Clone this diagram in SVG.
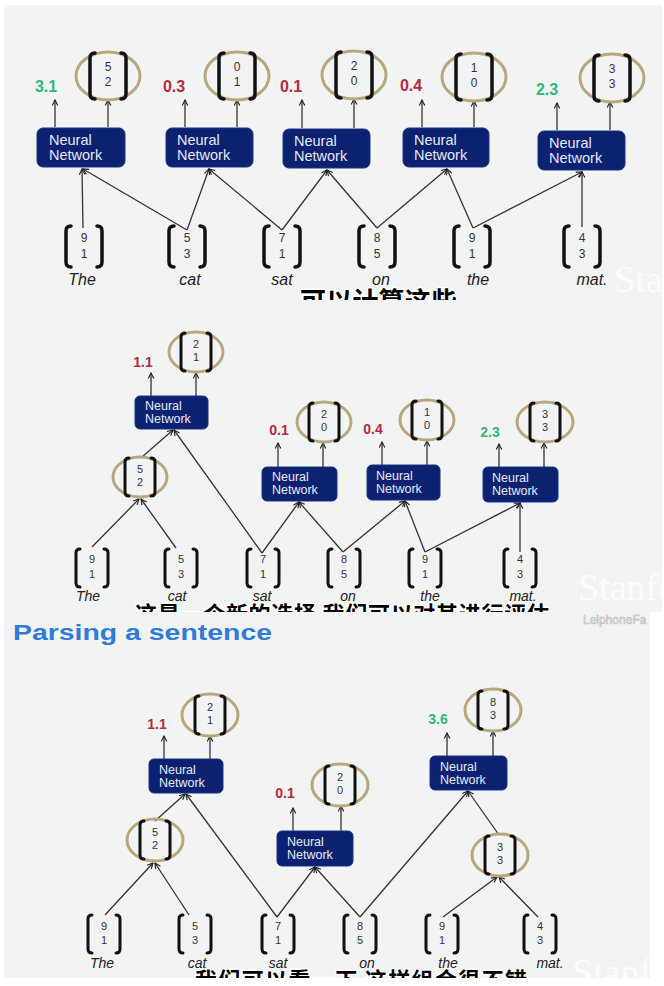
<svg xmlns="http://www.w3.org/2000/svg" width="664" height="986" viewBox="0 0 664 986">
<defs>
<style>
.bg{fill:#f2f3f3}
.nn{fill:#0c2270;stroke:#1b3285;stroke-width:1}
.nt{font-family:"Liberation Sans",Arial,sans-serif;fill:#e4e9f5}
.t1{font-size:14.5px}
.t2{font-size:12.5px}
.br{fill:none;stroke:#111;stroke-width:3.5;stroke-linecap:round;stroke-linejoin:round}
.br2{fill:none;stroke:#111;stroke-width:3;stroke-linecap:round;stroke-linejoin:round}
.el{fill:none;stroke:#b7a77b;stroke-width:3}
.num{font-family:"Liberation Sans",Arial,sans-serif;fill:#333;text-anchor:middle}
.n1{font-size:12px}
.n2{font-size:11px}
.sc{font-family:"Liberation Sans",Arial,sans-serif;text-anchor:middle;font-weight:bold}
.s1{font-size:16px}
.s2{font-size:14px}
.red{fill:#b52a40}
.grn{fill:#2fba76}
.wd{font-family:"Liberation Sans",Arial,sans-serif;font-style:italic;fill:#222;text-anchor:middle}
.w1{font-size:16px}
.w2{font-size:14px}
.cn line{stroke:#333;stroke-width:1.3;marker-end:url(#ah)}
.sub{font-family:"Noto Sans CJK SC",sans-serif;font-weight:bold;fill:#000;stroke:#fff;stroke-width:3;paint-order:stroke;stroke-linejoin:round}
.wm{font-family:"Liberation Serif",serif;fill:#ffffff;opacity:0.8}
</style>
<marker id="ah" viewBox="0 0 10 10" refX="9" refY="5" markerWidth="7" markerHeight="7" markerUnits="userSpaceOnUse" orient="auto">
<path d="M1,1 L9,5 L1,9" fill="none" stroke="#222" stroke-width="1.6"/>
</marker>
<clipPath id="c1"><rect x="0" y="0" width="664" height="300"/></clipPath>
<clipPath id="c2"><rect x="0" y="300" width="664" height="312"/></clipPath>
<clipPath id="c3"><rect x="0" y="612" width="664" height="366"/></clipPath>
</defs>
<rect width="664" height="986" fill="#ffffff"/>
<rect class="bg" x="4" y="5" width="658" height="295"/>
<rect class="bg" x="4" y="300" width="658" height="312"/>
<rect class="bg" x="4" y="612" width="646" height="366"/>

<!-- watermarks -->
<text class="wm" x="614" y="292" font-size="38" clip-path="url(#c1)">Sta</text>
<text class="wm" x="578" y="600" font-size="38" clip-path="url(#c2)">Stanfo</text>
<text x="583" y="624" font-family="Liberation Sans,Arial,sans-serif" font-size="12" fill="#e9eaea" stroke="#b9bcbf" stroke-width="0.6">LeiphoneFa</text>
<text class="wm" x="572" y="985" font-size="38" clip-path="url(#c3)">Stanf</text>

<!-- ================= PANEL 1 ================= -->
<g id="p1-connectors" class="cn">
<line x1="83" y1="228" x2="82" y2="169"/>
<line x1="187" y1="230" x2="83" y2="169"/>
<line x1="187" y1="230" x2="209" y2="169"/>
<line x1="282" y1="230" x2="209" y2="169"/>
<line x1="282" y1="230" x2="327" y2="170"/>
<line x1="377" y1="228" x2="327" y2="170"/>
<line x1="377" y1="228" x2="447" y2="169"/>
<line x1="473" y1="228" x2="447" y2="169"/>
<line x1="473" y1="228" x2="582" y2="172"/>
<line x1="582" y1="227" x2="582" y2="172"/>
<line x1="55" y1="127" x2="55" y2="100"/>
<line x1="108" y1="127" x2="108" y2="100"/>
<line x1="185" y1="127" x2="185" y2="100"/>
<line x1="237" y1="127" x2="237" y2="100"/>
<line x1="302" y1="128" x2="302" y2="100"/>
<line x1="354" y1="128" x2="354" y2="99"/>
<line x1="422" y1="127" x2="422" y2="100"/>
<line x1="474" y1="127" x2="474" y2="101"/>
<line x1="557" y1="130" x2="557" y2="103"/>
<line x1="610" y1="130" x2="610" y2="102"/>
</g>

<g id="p1-nn1"><rect class="nn" x="37" y="128" width="88" height="39" rx="6"/><text class="nt t1" x="49" y="145">Neural</text><text class="nt t1" x="49" y="160">Network</text></g>
<g id="p1-nn2"><rect class="nn" x="166" y="128" width="87" height="39" rx="6"/><text class="nt t1" x="177" y="145">Neural</text><text class="nt t1" x="177" y="160">Network</text></g>
<g id="p1-nn3"><rect class="nn" x="283" y="129" width="87" height="39" rx="6"/><text class="nt t1" x="294" y="146">Neural</text><text class="nt t1" x="294" y="161">Network</text></g>
<g id="p1-nn4"><rect class="nn" x="403" y="128" width="86" height="39" rx="6"/><text class="nt t1" x="414" y="145">Neural</text><text class="nt t1" x="414" y="160">Network</text></g>
<g id="p1-nn5"><rect class="nn" x="538" y="131" width="87" height="39" rx="6"/><text class="nt t1" x="549" y="148">Neural</text><text class="nt t1" x="549" y="163">Network</text></g>

<g id="p1-scores">
<text class="sc s1 grn" x="46" y="92">3.1</text>
<text class="sc s1 red" x="174" y="92">0.3</text>
<text class="sc s1 red" x="291" y="92">0.1</text>
<text class="sc s1 red" x="411" y="91">0.4</text>
<text class="sc s1 grn" x="547" y="95">2.3</text>
</g>

<g id="p1-out1"><ellipse class="el" cx="108" cy="76" rx="32" ry="24"/><path class="br" d="M95,53 Q90,53 90,58 L90,94 Q90,99 95,99 M121,53 Q126,53 126,58 L126,94 Q126,99 121,99"/><text class="num n1" x="108" y="71">5</text><text class="num n1" x="108" y="86">2</text></g>
<g id="p1-out2"><ellipse class="el" cx="237" cy="76" rx="32" ry="24"/><path class="br" d="M224,53 Q219,53 219,58 L219,94 Q219,99 224,99 M250,53 Q255,53 255,58 L255,94 Q255,99 250,99"/><text class="num n1" x="237" y="71">0</text><text class="num n1" x="237" y="86">1</text></g>
<g id="p1-out3"><ellipse class="el" cx="354" cy="75" rx="32" ry="24"/><path class="br" d="M341,52 Q336,52 336,57 L336,93 Q336,98 341,98 M367,52 Q372,52 372,57 L372,93 Q372,98 367,98"/><text class="num n1" x="354" y="70">2</text><text class="num n1" x="354" y="85">0</text></g>
<g id="p1-out4"><ellipse class="el" cx="474" cy="77" rx="32" ry="24"/><path class="br" d="M461,54 Q456,54 456,59 L456,95 Q456,100 461,100 M487,54 Q492,54 492,59 L492,95 Q492,100 487,100"/><text class="num n1" x="474" y="72">1</text><text class="num n1" x="474" y="87">0</text></g>
<g id="p1-out5"><ellipse class="el" cx="612" cy="78" rx="32" ry="24"/><path class="br" d="M599,55 Q594,55 594,60 L594,96 Q594,101 599,101 M625,55 Q630,55 630,60 L630,96 Q630,101 625,101"/><text class="num n1" x="612" y="73">3</text><text class="num n1" x="612" y="88">3</text></g>

<g id="p1-the"><path class="br" d="M71,226 Q66,226 66,231 L66,262 Q66,267 71,267 M97,226 Q102,226 102,231 L102,262 Q102,267 97,267"/><text class="num n1" x="84" y="242">9</text><text class="num n1" x="84" y="258">1</text><text class="wd w1" x="82" y="285">The</text></g>
<g id="p1-cat"><path class="br" d="M174,226 Q169,226 169,231 L169,262 Q169,267 174,267 M200,226 Q205,226 205,231 L205,262 Q205,267 200,267"/><text class="num n1" x="187" y="242">5</text><text class="num n1" x="187" y="258">3</text><text class="wd w1" x="190" y="285">cat</text></g>
<g id="p1-sat"><path class="br" d="M269,226 Q264,226 264,231 L264,262 Q264,267 269,267 M295,226 Q300,226 300,231 L300,262 Q300,267 295,267"/><text class="num n1" x="282" y="242">7</text><text class="num n1" x="282" y="258">1</text><text class="wd w1" x="282" y="285">sat</text></g>
<g id="p1-on"><path class="br" d="M364,226 Q359,226 359,231 L359,262 Q359,267 364,267 M390,226 Q395,226 395,231 L395,262 Q395,267 390,267"/><text class="num n1" x="377" y="242">8</text><text class="num n1" x="377" y="258">5</text><text class="wd w1" x="381" y="285">on</text></g>
<g id="p1-the2"><path class="br" d="M459,226 Q454,226 454,231 L454,262 Q454,267 459,267 M485,226 Q490,226 490,231 L490,262 Q490,267 485,267"/><text class="num n1" x="472" y="242">9</text><text class="num n1" x="472" y="258">1</text><text class="wd w1" x="478" y="285">the</text></g>
<g id="p1-mat"><path class="br" d="M569,226 Q564,226 564,231 L564,262 Q564,267 569,267 M595,226 Q600,226 600,231 L600,262 Q600,267 595,267"/><text class="num n1" x="582" y="242">4</text><text class="num n1" x="582" y="258">3</text><text class="wd w1" x="592" y="285">mat.</text></g>

<text class="sub" x="300" y="311" font-size="26" clip-path="url(#c1)" textLength="157">可以计算这些</text>

<!-- ================= PANEL 2 ================= -->
<g id="p2-connectors" class="cn">
<line x1="92" y1="547" x2="139" y2="499"/>
<line x1="176" y1="548" x2="141" y2="499"/>
<line x1="142" y1="457" x2="173" y2="430"/>
<line x1="262" y1="553" x2="174" y2="430"/>
<line x1="262" y1="553" x2="299" y2="502"/>
<line x1="343" y1="552" x2="299" y2="502"/>
<line x1="343" y1="552" x2="405" y2="501"/>
<line x1="425" y1="552" x2="405" y2="501"/>
<line x1="425" y1="552" x2="520" y2="503"/>
<line x1="520" y1="552" x2="520" y2="503"/>
<line x1="151" y1="396" x2="151" y2="373"/>
<line x1="196" y1="396" x2="196" y2="373"/>
<line x1="278" y1="467" x2="278" y2="443"/>
<line x1="323" y1="467" x2="323" y2="443"/>
<line x1="382" y1="465" x2="382" y2="442"/>
<line x1="427" y1="465" x2="427" y2="441"/>
<line x1="499" y1="467" x2="499" y2="444"/>
<line x1="544" y1="467" x2="544" y2="443"/>
</g>

<g id="p2-nn1"><rect class="nn" x="135" y="396" width="73" height="33" rx="5"/><text class="nt t2" x="145" y="410">Neural</text><text class="nt t2" x="145" y="423">Network</text></g>
<g id="p2-nn2"><rect class="nn" x="262" y="467" width="75" height="34" rx="5"/><text class="nt t2" x="272" y="481">Neural</text><text class="nt t2" x="272" y="494">Network</text></g>
<g id="p2-nn3"><rect class="nn" x="367" y="465" width="73" height="35" rx="5"/><text class="nt t2" x="376" y="480">Neural</text><text class="nt t2" x="376" y="493">Network</text></g>
<g id="p2-nn4"><rect class="nn" x="483" y="467" width="75" height="35" rx="5"/><text class="nt t2" x="492" y="482">Neural</text><text class="nt t2" x="492" y="495">Network</text></g>

<g id="p2-scores">
<text class="sc s2 red" x="143" y="367">1.1</text>
<text class="sc s2 red" x="279" y="435">0.1</text>
<text class="sc s2 red" x="373" y="434">0.4</text>
<text class="sc s2 grn" x="490" y="437">2.3</text>
</g>

<g id="p2-out1"><ellipse class="el" cx="196" cy="352" rx="27" ry="20"/><path class="br2" d="M185,333 Q181,333 181,337 L181,367 Q181,371 185,371 M207,333 Q211,333 211,337 L211,367 Q211,371 207,371"/><text class="num n2" x="196" y="348">2</text><text class="num n2" x="196" y="361">1</text></g>
<g id="p2-mid"><ellipse class="el" cx="140" cy="477" rx="27" ry="20"/><path class="br2" d="M129,458 Q125,458 125,462 L125,492 Q125,496 129,496 M151,458 Q155,458 155,462 L155,492 Q155,496 151,496"/><text class="num n2" x="140" y="473">5</text><text class="num n2" x="140" y="486">2</text></g>
<g id="p2-out2"><ellipse class="el" cx="324" cy="422" rx="27" ry="20"/><path class="br2" d="M313,403 Q309,403 309,407 L309,437 Q309,441 313,441 M335,403 Q339,403 339,407 L339,437 Q339,441 335,441"/><text class="num n2" x="324" y="418">2</text><text class="num n2" x="324" y="431">0</text></g>
<g id="p2-out3"><ellipse class="el" cx="427" cy="420" rx="27" ry="20"/><path class="br2" d="M416,401 Q412,401 412,405 L412,435 Q412,439 416,439 M438,401 Q442,401 442,405 L442,435 Q442,439 438,439"/><text class="num n2" x="427" y="416">1</text><text class="num n2" x="427" y="429">0</text></g>
<g id="p2-out4"><ellipse class="el" cx="545" cy="422" rx="28" ry="20"/><path class="br2" d="M534,403 Q530,403 530,407 L530,437 Q530,441 534,441 M556,403 Q560,403 560,407 L560,437 Q560,441 556,441"/><text class="num n2" x="545" y="418">3</text><text class="num n2" x="545" y="431">3</text></g>

<g id="p2-the"><path class="br2" d="M80,549 Q76,549 76,553 L76,583 Q76,587 80,587 M104,549 Q108,549 108,553 L108,583 Q108,587 104,587"/><text class="num n2" x="92" y="563">9</text><text class="num n2" x="92" y="578">1</text><text class="wd w2" x="88" y="601">The</text></g>
<g id="p2-cat"><path class="br2" d="M169,549 Q165,549 165,553 L165,583 Q165,587 169,587 M193,549 Q197,549 197,553 L197,583 Q197,587 193,587"/><text class="num n2" x="181" y="563">5</text><text class="num n2" x="181" y="578">3</text><text class="wd w2" x="177" y="601">cat</text></g>
<g id="p2-sat"><path class="br2" d="M251,549 Q247,549 247,553 L247,583 Q247,587 251,587 M275,549 Q279,549 279,553 L279,583 Q279,587 275,587"/><text class="num n2" x="263" y="563">7</text><text class="num n2" x="263" y="578">1</text><text class="wd w2" x="262" y="601">sat</text></g>
<g id="p2-on"><path class="br2" d="M332,549 Q328,549 328,553 L328,583 Q328,587 332,587 M356,549 Q360,549 360,553 L360,583 Q360,587 356,587"/><text class="num n2" x="344" y="563">8</text><text class="num n2" x="344" y="578">5</text><text class="wd w2" x="348" y="601">on</text></g>
<g id="p2-the2"><path class="br2" d="M413,549 Q409,549 409,553 L409,583 Q409,587 413,587 M437,549 Q441,549 441,553 L441,583 Q441,587 437,587"/><text class="num n2" x="425" y="563">9</text><text class="num n2" x="425" y="578">1</text><text class="wd w2" x="430" y="601">the</text></g>
<g id="p2-mat"><path class="br2" d="M508,549 Q504,549 504,553 L504,583 Q504,587 508,587 M532,549 Q536,549 536,553 L536,583 Q536,587 532,587"/><text class="num n2" x="520" y="563">4</text><text class="num n2" x="520" y="578">3</text><text class="wd w2" x="523" y="601">mat.</text></g>

<text class="sub" x="135" y="622" font-size="22" clip-path="url(#c2)" textLength="414">这是一个新的选择 我们可以对其进行评估</text>

<!-- ================= PANEL 3 ================= -->
<text id="title" x="13" y="640" font-family="Liberation Sans,Arial,sans-serif" font-weight="bold" font-size="22" fill="#2f7bd8" textLength="259" lengthAdjust="spacingAndGlyphs">Parsing a sentence</text>

<g id="p3-connectors" class="cn">
<line x1="105" y1="915" x2="153" y2="863"/>
<line x1="189" y1="915" x2="155" y2="863"/>
<line x1="155" y1="821" x2="185" y2="794"/>
<line x1="277" y1="917" x2="186" y2="794"/>
<line x1="277" y1="917" x2="315" y2="867"/>
<line x1="360" y1="917" x2="315" y2="867"/>
<line x1="360" y1="917" x2="468" y2="791"/>
<line x1="443" y1="917" x2="497" y2="877"/>
<line x1="538" y1="917" x2="499" y2="877"/>
<line x1="499" y1="835" x2="468" y2="791"/>
<line x1="164" y1="759" x2="164" y2="736"/>
<line x1="210" y1="759" x2="210" y2="736"/>
<line x1="293" y1="831" x2="293" y2="808"/>
<line x1="341" y1="831" x2="341" y2="806"/>
<line x1="447" y1="756" x2="447" y2="733"/>
<line x1="493" y1="756" x2="493" y2="731"/>
</g>

<g id="p3-nn1"><rect class="nn" x="149" y="759" width="74" height="34" rx="5"/><text class="nt t2" x="159" y="774">Neural</text><text class="nt t2" x="159" y="787">Network</text></g>
<g id="p3-nn2"><rect class="nn" x="277" y="831" width="76" height="35" rx="5"/><text class="nt t2" x="287" y="846">Neural</text><text class="nt t2" x="287" y="859">Network</text></g>
<g id="p3-nn3"><rect class="nn" x="430" y="756" width="77" height="34" rx="5"/><text class="nt t2" x="440" y="771">Neural</text><text class="nt t2" x="440" y="784">Network</text></g>

<g id="p3-scores">
<text class="sc s2 red" x="157" y="729">1.1</text>
<text class="sc s2 red" x="285" y="798">0.1</text>
<text class="sc s2 grn" x="438" y="724">3.6</text>
</g>

<g id="p3-out1"><ellipse class="el" cx="210" cy="715" rx="28" ry="21"/><path class="br2" d="M199,696 Q195,696 195,700 L195,730 Q195,734 199,734 M221,696 Q225,696 225,700 L225,730 Q225,734 221,734"/><text class="num n2" x="210" y="711">2</text><text class="num n2" x="210" y="724">1</text></g>
<g id="p3-mid1"><ellipse class="el" cx="155" cy="840" rx="28" ry="21"/><path class="br2" d="M144,821 Q140,821 140,825 L140,855 Q140,859 144,859 M166,821 Q170,821 170,825 L170,855 Q170,859 166,859"/><text class="num n2" x="155" y="836">5</text><text class="num n2" x="155" y="849">2</text></g>
<g id="p3-out2"><ellipse class="el" cx="340" cy="785" rx="28" ry="21"/><path class="br2" d="M329,766 Q325,766 325,770 L325,800 Q325,804 329,804 M351,766 Q355,766 355,770 L355,800 Q355,804 351,804"/><text class="num n2" x="340" y="781">2</text><text class="num n2" x="340" y="794">0</text></g>
<g id="p3-out3"><ellipse class="el" cx="493" cy="710" rx="28" ry="21"/><path class="br2" d="M482,691 Q478,691 478,695 L478,725 Q478,729 482,729 M504,691 Q508,691 508,695 L508,725 Q508,729 504,729"/><text class="num n2" x="493" y="706">8</text><text class="num n2" x="493" y="719">3</text></g>
<g id="p3-mid2"><ellipse class="el" cx="500" cy="855" rx="28" ry="21"/><path class="br2" d="M489,836 Q485,836 485,840 L485,870 Q485,874 489,874 M511,836 Q515,836 515,840 L515,870 Q515,874 511,874"/><text class="num n2" x="500" y="851">3</text><text class="num n2" x="500" y="864">3</text></g>

<g id="p3-the"><path class="br2" d="M92,915 Q88,915 88,919 L88,949 Q88,953 92,953 M116,915 Q120,915 120,919 L120,949 Q120,953 116,953"/><text class="num n2" x="104" y="930">9</text><text class="num n2" x="104" y="944">1</text><text class="wd w2" x="102" y="968">The</text></g>
<g id="p3-cat"><path class="br2" d="M183,915 Q179,915 179,919 L179,949 Q179,953 183,953 M207,915 Q211,915 211,919 L211,949 Q211,953 207,953"/><text class="num n2" x="195" y="930">5</text><text class="num n2" x="195" y="944">3</text><text class="wd w2" x="197" y="968">cat</text></g>
<g id="p3-sat"><path class="br2" d="M266,915 Q262,915 262,919 L262,949 Q262,953 266,953 M290,915 Q294,915 294,919 L294,949 Q294,953 290,953"/><text class="num n2" x="278" y="930">7</text><text class="num n2" x="278" y="944">1</text><text class="wd w2" x="278" y="968">sat</text></g>
<g id="p3-on"><path class="br2" d="M348,915 Q344,915 344,919 L344,949 Q344,953 348,953 M372,915 Q376,915 376,919 L376,949 Q376,953 372,953"/><text class="num n2" x="360" y="930">8</text><text class="num n2" x="360" y="944">5</text><text class="wd w2" x="367" y="968">on</text></g>
<g id="p3-the2"><path class="br2" d="M430,915 Q426,915 426,919 L426,949 Q426,953 430,953 M454,915 Q458,915 458,919 L458,949 Q458,953 454,953"/><text class="num n2" x="442" y="930">9</text><text class="num n2" x="442" y="944">1</text><text class="wd w2" x="448" y="968">the</text></g>
<g id="p3-mat"><path class="br2" d="M528,915 Q524,915 524,919 L524,949 Q524,953 528,953 M552,915 Q556,915 556,919 L556,949 Q556,953 552,953"/><text class="num n2" x="540" y="930">4</text><text class="num n2" x="540" y="944">3</text><text class="wd w2" x="550" y="968">mat.</text></g>

<text class="sub" x="195" y="988" font-size="22" clip-path="url(#c3)" textLength="332">我们可以看一下 这样组合很不错</text>
</svg>
